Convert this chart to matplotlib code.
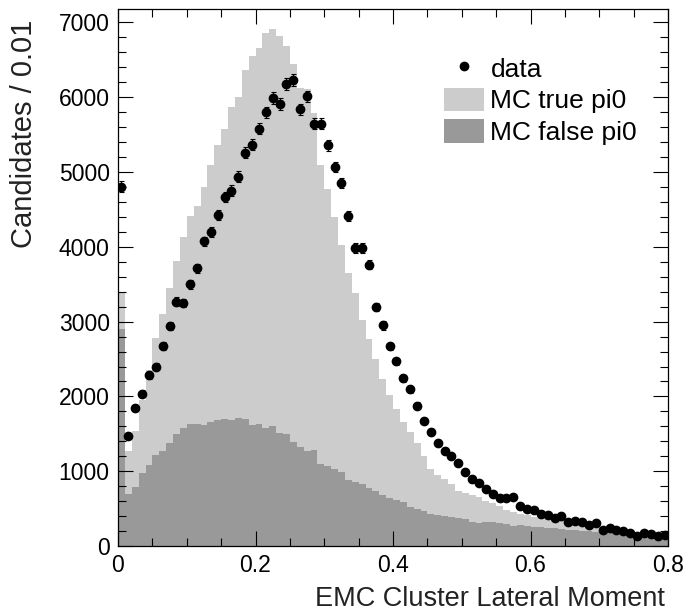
import numpy as np
import matplotlib
matplotlib.use('Agg')
import matplotlib.pyplot as plt
from matplotlib.lines import Line2D
from matplotlib.patches import Patch
from matplotlib.ticker import MultipleLocator, FuncFormatter

plt.rcParams['font.family'] = ['Liberation Sans', 'DejaVu Sans']

# bin edges: 80 bins of width 0.01 from 0 to 0.8
bin_edges = np.linspace(0.0, 0.8, 81)
bin_centers = 0.5 * (bin_edges[:-1] + bin_edges[1:])

# data counts per bin
data_counts = [
    4806, 1469, 1843, 2039, 2280, 2400, 2673, 2945, 3266, 3249,
    3498, 3712, 4074, 4194, 4422, 4668, 4752, 4940, 5257, 5362,
    5578, 5800, 5988, 5908, 6175, 6229, 5837, 6011, 5645, 5645,
    5359, 5069, 4850, 4418, 3985, 3985, 3762, 3199, 2949, 2668,
    2467, 2240, 2098, 1878, 1677, 1526, 1375, 1268, 1205, 1107,
    991, 897, 843, 767, 692, 647, 643, 652, 531, 500,
    487, 426, 411, 375, 402, 317, 335, 317, 281, 304,
    218, 241, 214, 197, 178, 134, 174, 157, 134, 143,
]

# stacked MC (true + false), top of the light grey area
mc_total = [
    3390, 1276, 1540, 1950, 2356, 2780, 3102, 3444, 3811, 4137,
    4418, 4542, 4797, 5091, 5359, 5582, 5863, 6006, 6368, 6550,
    6663, 6859, 6917, 6814, 6690, 6439, 6118, 6114, 5792, 5091,
    4779, 4395, 4025, 3645, 3378, 3025, 2771, 2499, 2236, 2017,
    1834, 1664, 1530, 1379, 1209, 1035, 954, 901, 830, 736,
    714, 683, 660, 602, 571, 540, 482, 455, 432, 411,
    390, 375, 360, 345, 330, 315, 300, 290, 275, 262,
    250, 238, 225, 212, 200, 190, 180, 170, 160, 150,
]

# MC false pi0 (dark grey)
mc_false = [
    2896, 692, 794, 981, 1084, 1218, 1276, 1375, 1499, 1575,
    1629, 1629, 1616, 1664, 1687, 1696, 1687, 1718, 1700, 1624,
    1633, 1580, 1606, 1517, 1499, 1396, 1329, 1276, 1285, 1098,
    1075, 1027, 995, 884, 857, 830, 776, 740, 683, 638,
    620, 585, 526, 495, 473, 428, 415, 402, 392, 375,
    357, 325, 304, 317, 325, 304, 290, 268, 277, 268,
    254, 250, 243, 236, 228, 220, 212, 205, 198, 190,
    183, 176, 168, 160, 153, 146, 140, 132, 125, 118,
]

light_grey = '#cccccc'
dark_grey = '#999999'

fig = plt.figure(figsize=(6.86, 6.14), dpi=100)
ax = fig.add_axes([118 / 686, 1 - 546 / 614, 550 / 686, 537 / 614])

ax.stairs(mc_total, bin_edges, fill=True, color=light_grey, linewidth=0)
ax.stairs(mc_false, bin_edges, fill=True, color=dark_grey, linewidth=0)

# poisson errors on the data points
data_err = np.sqrt(np.array(data_counts, dtype=float))
ax.errorbar(bin_centers, data_counts, yerr=data_err, fmt='o', color='black',
            markersize=6, elinewidth=0.8, capsize=1.8, capthick=0.8)

ax.set_xlim(0, 0.8)
ax.set_ylim(0, 7180)

ax.xaxis.set_major_locator(MultipleLocator(0.2))
ax.xaxis.set_minor_locator(MultipleLocator(0.05))
ax.yaxis.set_major_locator(MultipleLocator(1000))
ax.yaxis.set_minor_locator(MultipleLocator(200))
ax.xaxis.set_major_formatter(FuncFormatter(lambda v, p: '0' if abs(v) < 1e-9 else f'{v:g}'))

ax.tick_params(which='both', direction='in', top=True, right=True, labelsize=16.5, width=0.8)
ax.tick_params(which='major', length=11)
ax.tick_params(which='minor', length=6)
ax.tick_params(axis='y', pad=6)
ax.tick_params(axis='x', pad=6)
for s in ax.spines.values():
    s.set_linewidth(0.9)

ax.set_ylabel('Candidates / 0.01', fontsize=21, color='#222222')
ax.yaxis.set_label_coords(-0.145, 0.98)
ax.yaxis.label.set_horizontalalignment('right')
ax.set_xlabel('EMC Cluster Lateral Moment', fontsize=19.5, color='#222222')
ax.xaxis.set_label_coords(0.995, -0.074)
ax.xaxis.label.set_horizontalalignment('right')

handles = [
    Line2D([0], [0], marker='o', color='black', linestyle='none', markersize=6),
    Patch(facecolor=light_grey, edgecolor='none'),
    Patch(facecolor=dark_grey, edgecolor='none'),
]
ax.legend(handles, ['data', 'MC true pi0', 'MC false pi0'], loc='upper left',
          bbox_to_anchor=(444 / 686, 1 - 56 / 614), bbox_transform=fig.transFigure,
          frameon=False, fontsize=19, borderpad=0, borderaxespad=0,
          handlelength=1.52, handleheight=1.0, handletextpad=0.24, labelspacing=0.22)

fig.savefig('out.png', dpi=100)
